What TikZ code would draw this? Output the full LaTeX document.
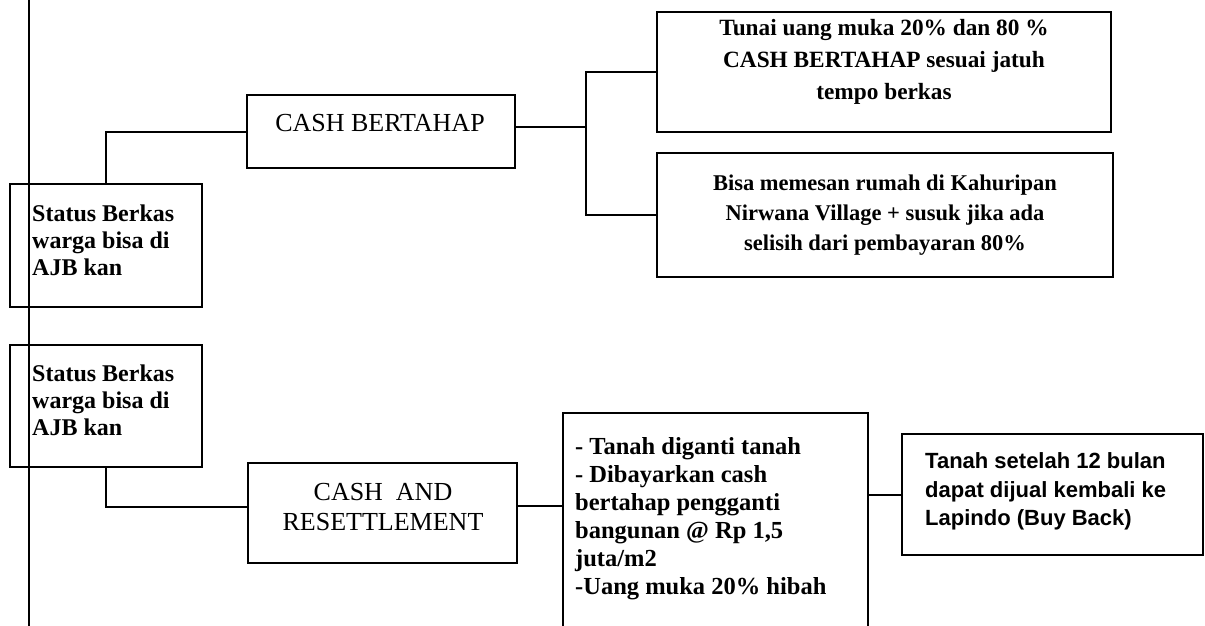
\documentclass[tikz,border=0pt]{standalone}
\usepackage{fontspec}
\setmainfont{Liberation Serif}
\newfontfamily\sansbold{Liberation Sans}[BoldFont={Liberation Sans Bold}]
\begin{document}
\begin{tikzpicture}[x=1pt,y=-1pt,
  box/.style={draw, line width=2.2pt, inner sep=0pt},
  link/.style={draw, line width=2pt},
  txt/.style={inner sep=0pt, font=\bfseries\fontsize{24}{27}\selectfont},
  capt/.style={inner sep=0pt, align=center, font=\fontsize{26}{30}\selectfont}]
\useasboundingbox (0,0) rectangle (1205,625);
\clip (0,0) rectangle (1205,625);
\fill[white] (0,0) rectangle (1205,625);

% boxes
\node[box, minimum width=192pt, minimum height=123pt] (s1) at (106,245.5) {};
\node[box, minimum width=192pt, minimum height=122pt] (s2) at (106,406) {};
\node[box, minimum width=268pt, minimum height=73pt] (cb) at (381,131.5) {};
\node[box, minimum width=454pt, minimum height=120pt] (t1) at (884,72) {};
\node[box, minimum width=456pt, minimum height=124pt] (t2) at (885,215) {};
\node[box, minimum width=269pt, minimum height=100pt] (ca) at (382.5,513) {};
\node[box, minimum width=305pt, minimum height=237pt] (m) at (715.5,531.5) {};
\node[box, minimum width=301pt, minimum height=121pt] (r) at (1052.5,494.5) {};

% texts
\node[txt, anchor=west, align=left] (s1t) at (32,240) {Status Berkas\\warga bisa di\\AJB kan};
\node[txt, anchor=west, align=left] (s2t) at (32,400.5) {Status Berkas\\warga bisa di\\AJB kan};
\node[capt] (cbt) at (380,123) {CASH BERTAHAP};
\node[txt, align=center, font=\bfseries\fontsize{23.3}{32}\selectfont] (t1t) at (884,62)
  {Tunai uang muka 20\% dan 80 \%\\CASH BERTAHAP sesuai jatuh\\tempo berkas};
\node[txt, align=center, font=\bfseries\fontsize{22.5}{30}\selectfont] (t2t) at (885,215)
  {Bisa memesan rumah di Kahuripan\\Nirwana Village + susuk jika ada\\selisih dari pembayaran 80\%};
\node[capt] (cat) at (383,507) {CASH\enspace AND\\RESETTLEMENT};
\node[txt, anchor=west, align=left, font=\bfseries\fontsize{24.5}{28}\selectfont] (mt) at (575,518.5)
  {- Tanah diganti tanah\\- Dibayarkan cash\\bertahap pengganti\\bangunan @ Rp 1,5\\juta/m2\\-Uang muka 20\% hibah};
\node[txt, anchor=west, align=left, font=\sansbold\bfseries\fontsize{22}{28.5}\selectfont] (rt) at (925,491.5)
  {Tanah setelah 12 bulan\\dapat dijual kembali ke\\Lapindo (Buy Back)};

% connectors
\coordinate (vtop) at (29,-5);
\coordinate (vbot) at (29,630);
\draw[link] (vtop) -- (vbot);
\draw[link] (s1.north) |- (cb.west);
\draw[link] (s2.south) |- ([yshift=6pt]ca.west);
\coordinate (j) at (586,127);
\draw[link] ([yshift=4.5pt]cb.east) -- (j);
\draw[link] (t1.west) -| (j) |- (t2.west);
\draw[link] ([yshift=7pt]ca.east) -- ([yshift=7pt]ca.east -| m.west);
\draw[link] (m.east |- r.west) -- (r.west);
\end{tikzpicture}
\end{document}
